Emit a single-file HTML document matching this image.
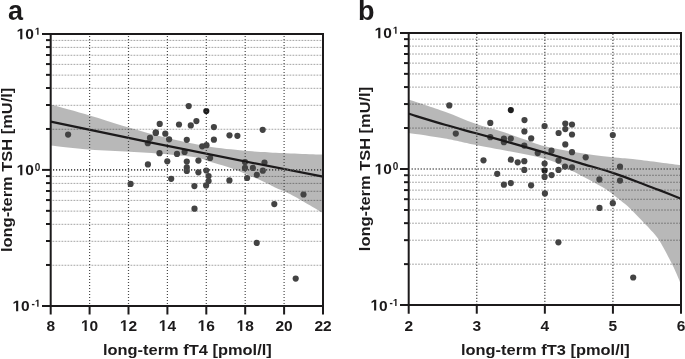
<!DOCTYPE html>
<html><head><meta charset="utf-8"><style>
html,body{margin:0;padding:0;background:#fff;width:685px;height:359px;overflow:hidden}
svg{display:block;will-change:transform}
</style></head><body>
<svg width="685" height="359" viewBox="0 0 685 359" font-family='"Liberation Sans", sans-serif' fill="#1c1a1b">
<rect width="685" height="359" fill="#fff"/>
<g>
<line x1="51.70" y1="265.26" x2="322.00" y2="265.26" stroke="#a4a4a4" stroke-width="1" stroke-dasharray="1.8 1.2" stroke-dashoffset="2.2"/>
<line x1="51.70" y1="241.31" x2="322.00" y2="241.31" stroke="#a4a4a4" stroke-width="1" stroke-dasharray="1.8 1.2" stroke-dashoffset="2.2"/>
<line x1="51.70" y1="224.32" x2="322.00" y2="224.32" stroke="#a4a4a4" stroke-width="1" stroke-dasharray="1.8 1.2" stroke-dashoffset="2.2"/>
<line x1="51.70" y1="211.14" x2="322.00" y2="211.14" stroke="#a4a4a4" stroke-width="1" stroke-dasharray="1.8 1.2" stroke-dashoffset="2.2"/>
<line x1="51.70" y1="200.37" x2="322.00" y2="200.37" stroke="#a4a4a4" stroke-width="1" stroke-dasharray="1.8 1.2" stroke-dashoffset="2.2"/>
<line x1="51.70" y1="191.27" x2="322.00" y2="191.27" stroke="#a4a4a4" stroke-width="1" stroke-dasharray="1.8 1.2" stroke-dashoffset="2.2"/>
<line x1="51.70" y1="183.38" x2="322.00" y2="183.38" stroke="#a4a4a4" stroke-width="1" stroke-dasharray="1.8 1.2" stroke-dashoffset="2.2"/>
<line x1="51.70" y1="176.42" x2="322.00" y2="176.42" stroke="#a4a4a4" stroke-width="1" stroke-dasharray="1.8 1.2" stroke-dashoffset="2.2"/>
<line x1="51.70" y1="129.26" x2="322.00" y2="129.26" stroke="#a4a4a4" stroke-width="1" stroke-dasharray="1.8 1.2" stroke-dashoffset="2.2"/>
<line x1="51.70" y1="105.31" x2="322.00" y2="105.31" stroke="#a4a4a4" stroke-width="1" stroke-dasharray="1.8 1.2" stroke-dashoffset="2.2"/>
<line x1="51.70" y1="88.32" x2="322.00" y2="88.32" stroke="#a4a4a4" stroke-width="1" stroke-dasharray="1.8 1.2" stroke-dashoffset="2.2"/>
<line x1="51.70" y1="75.14" x2="322.00" y2="75.14" stroke="#a4a4a4" stroke-width="1" stroke-dasharray="1.8 1.2" stroke-dashoffset="2.2"/>
<line x1="51.70" y1="64.37" x2="322.00" y2="64.37" stroke="#a4a4a4" stroke-width="1" stroke-dasharray="1.8 1.2" stroke-dashoffset="2.2"/>
<line x1="51.70" y1="55.27" x2="322.00" y2="55.27" stroke="#a4a4a4" stroke-width="1" stroke-dasharray="1.8 1.2" stroke-dashoffset="2.2"/>
<line x1="51.70" y1="47.38" x2="322.00" y2="47.38" stroke="#a4a4a4" stroke-width="1" stroke-dasharray="1.8 1.2" stroke-dashoffset="2.2"/>
<line x1="51.70" y1="40.42" x2="322.00" y2="40.42" stroke="#a4a4a4" stroke-width="1" stroke-dasharray="1.8 1.2" stroke-dashoffset="2.2"/>
<path d="M50.70,104.40 C56.42,106.00 69.28,109.37 85.00,114.00 C100.72,118.63 125.83,127.03 145.00,132.20 C164.17,137.37 184.17,141.98 200.00,145.00 C215.83,148.02 228.33,149.07 240.00,150.30 C251.67,151.53 256.17,151.68 270.00,152.40 C283.83,153.12 314.17,154.23 323.00,154.60 L323.00,213.00 C317.50,209.83 298.00,198.27 290.00,194.00 C282.00,189.73 280.00,189.72 275.00,187.40 C270.00,185.08 267.50,183.37 260.00,180.10 C252.50,176.83 238.50,170.92 230.00,167.80 C221.50,164.68 214.83,163.15 209.00,161.40 C203.17,159.65 203.17,158.57 195.00,157.30 C186.83,156.03 171.67,154.75 160.00,153.80 C148.33,152.85 137.50,152.37 125.00,151.60 C112.50,150.83 97.38,150.20 85.00,149.20 C72.62,148.20 56.42,146.20 50.70,145.60 Z" fill="#000" fill-opacity="0.28" stroke="none"/>
<circle cx="68.10" cy="134.60" r="3.1" fill="#434343"/>
<circle cx="188.70" cy="106.10" r="3.1" fill="#434343"/>
<circle cx="159.70" cy="123.90" r="3.1" fill="#434343"/>
<circle cx="179.00" cy="124.50" r="3.1" fill="#434343"/>
<circle cx="190.80" cy="125.40" r="3.1" fill="#434343"/>
<circle cx="196.40" cy="121.10" r="3.1" fill="#434343"/>
<circle cx="155.80" cy="132.40" r="3.1" fill="#434343"/>
<circle cx="165.30" cy="133.70" r="3.1" fill="#434343"/>
<circle cx="150.00" cy="137.90" r="3.1" fill="#434343"/>
<circle cx="169.10" cy="139.30" r="3.1" fill="#434343"/>
<circle cx="186.80" cy="139.80" r="3.1" fill="#434343"/>
<circle cx="147.80" cy="143.20" r="3.1" fill="#434343"/>
<circle cx="202.20" cy="146.30" r="3.1" fill="#434343"/>
<circle cx="206.50" cy="145.20" r="3.1" fill="#434343"/>
<circle cx="159.50" cy="153.20" r="3.1" fill="#434343"/>
<circle cx="177.00" cy="153.90" r="3.1" fill="#434343"/>
<circle cx="184.60" cy="151.90" r="3.1" fill="#434343"/>
<circle cx="210.10" cy="158.00" r="3.1" fill="#434343"/>
<circle cx="147.90" cy="164.40" r="3.1" fill="#434343"/>
<circle cx="167.30" cy="161.30" r="3.1" fill="#434343"/>
<circle cx="186.80" cy="161.60" r="3.1" fill="#434343"/>
<circle cx="198.40" cy="160.60" r="3.1" fill="#434343"/>
<circle cx="186.80" cy="167.40" r="3.1" fill="#434343"/>
<circle cx="186.80" cy="170.90" r="3.1" fill="#434343"/>
<circle cx="198.40" cy="172.30" r="3.1" fill="#434343"/>
<circle cx="206.30" cy="170.50" r="3.1" fill="#434343"/>
<circle cx="171.20" cy="178.80" r="3.1" fill="#434343"/>
<circle cx="208.60" cy="176.00" r="3.1" fill="#434343"/>
<circle cx="130.60" cy="183.90" r="3.1" fill="#434343"/>
<circle cx="194.40" cy="186.10" r="3.1" fill="#434343"/>
<circle cx="206.10" cy="185.40" r="3.1" fill="#434343"/>
<circle cx="206.30" cy="111.00" r="3.1" fill="#1e1e1e"/>
<circle cx="213.90" cy="127.10" r="3.1" fill="#434343"/>
<circle cx="213.90" cy="139.70" r="3.1" fill="#434343"/>
<circle cx="229.50" cy="135.30" r="3.1" fill="#434343"/>
<circle cx="237.40" cy="135.80" r="3.1" fill="#434343"/>
<circle cx="262.70" cy="129.80" r="3.1" fill="#434343"/>
<circle cx="208.60" cy="181.10" r="3.1" fill="#434343"/>
<circle cx="229.40" cy="180.40" r="3.1" fill="#434343"/>
<circle cx="245.00" cy="162.00" r="3.1" fill="#434343"/>
<circle cx="245.00" cy="167.90" r="3.1" fill="#434343"/>
<circle cx="252.90" cy="167.90" r="3.1" fill="#434343"/>
<circle cx="264.50" cy="162.60" r="3.1" fill="#434343"/>
<circle cx="262.80" cy="170.70" r="3.1" fill="#434343"/>
<circle cx="256.80" cy="174.80" r="3.1" fill="#434343"/>
<circle cx="247.10" cy="178.00" r="3.1" fill="#434343"/>
<circle cx="303.50" cy="194.50" r="3.1" fill="#434343"/>
<circle cx="194.50" cy="208.70" r="3.1" fill="#434343"/>
<circle cx="274.30" cy="204.10" r="3.1" fill="#434343"/>
<circle cx="256.70" cy="242.90" r="3.1" fill="#434343"/>
<circle cx="295.70" cy="278.60" r="3.1" fill="#434343"/>
<circle cx="155.80" cy="132.90" r="3.1" fill="#434343"/>
<path d="M50.7,121.6 Q186.85,150.6 323,176.6" fill="none" stroke="#1c1a1b" stroke-width="2.2"/>
<line x1="53.00" y1="169.90" x2="322.00" y2="169.90" stroke="#505050" stroke-width="1.7" stroke-dasharray="1.2 1.8"/>
<line x1="89.60" y1="35.90" x2="89.60" y2="304.90" stroke="#4a4a4a" stroke-width="1.2" stroke-dasharray="1.2 1.8"/>
<line x1="128.50" y1="35.90" x2="128.50" y2="304.90" stroke="#4a4a4a" stroke-width="1.2" stroke-dasharray="1.2 1.8"/>
<line x1="167.40" y1="35.90" x2="167.40" y2="304.90" stroke="#4a4a4a" stroke-width="1.2" stroke-dasharray="1.2 1.8"/>
<line x1="206.30" y1="35.90" x2="206.30" y2="304.90" stroke="#4a4a4a" stroke-width="1.2" stroke-dasharray="1.2 1.8"/>
<line x1="245.20" y1="35.90" x2="245.20" y2="304.90" stroke="#4a4a4a" stroke-width="1.2" stroke-dasharray="1.2 1.8"/>
<line x1="284.10" y1="35.90" x2="284.10" y2="304.90" stroke="#4a4a4a" stroke-width="1.2" stroke-dasharray="1.2 1.8"/>
<path d="M42.00,33.90 H323.00 V314.50" fill="none" stroke="#1c1a1b" stroke-width="2.0"/>
<path d="M42.00,305.90 H323.00" fill="none" stroke="#1c1a1b" stroke-width="2.0"/>
<path d="M50.70,32.90 V314.50" fill="none" stroke="#1c1a1b" stroke-width="2.0"/>
<line x1="89.60" y1="305.90" x2="89.60" y2="314.50" stroke="#1c1a1b" stroke-width="2.0"/>
<line x1="128.50" y1="305.90" x2="128.50" y2="314.50" stroke="#1c1a1b" stroke-width="2.0"/>
<line x1="167.40" y1="305.90" x2="167.40" y2="314.50" stroke="#1c1a1b" stroke-width="2.0"/>
<line x1="206.30" y1="305.90" x2="206.30" y2="314.50" stroke="#1c1a1b" stroke-width="2.0"/>
<line x1="245.20" y1="305.90" x2="245.20" y2="314.50" stroke="#1c1a1b" stroke-width="2.0"/>
<line x1="284.10" y1="305.90" x2="284.10" y2="314.50" stroke="#1c1a1b" stroke-width="2.0"/>
<line x1="42.00" y1="169.90" x2="50.70" y2="169.90" stroke="#1c1a1b" stroke-width="2.0"/>
<line x1="46.00" y1="264.96" x2="50.70" y2="264.96" stroke="#1c1a1b" stroke-width="2.0"/>
<line x1="46.00" y1="241.01" x2="50.70" y2="241.01" stroke="#1c1a1b" stroke-width="2.0"/>
<line x1="46.00" y1="224.02" x2="50.70" y2="224.02" stroke="#1c1a1b" stroke-width="2.0"/>
<line x1="46.00" y1="210.84" x2="50.70" y2="210.84" stroke="#1c1a1b" stroke-width="2.0"/>
<line x1="46.00" y1="200.07" x2="50.70" y2="200.07" stroke="#1c1a1b" stroke-width="2.0"/>
<line x1="46.00" y1="190.97" x2="50.70" y2="190.97" stroke="#1c1a1b" stroke-width="2.0"/>
<line x1="46.00" y1="183.08" x2="50.70" y2="183.08" stroke="#1c1a1b" stroke-width="2.0"/>
<line x1="46.00" y1="176.12" x2="50.70" y2="176.12" stroke="#1c1a1b" stroke-width="2.0"/>
<line x1="46.00" y1="128.96" x2="50.70" y2="128.96" stroke="#1c1a1b" stroke-width="2.0"/>
<line x1="46.00" y1="105.01" x2="50.70" y2="105.01" stroke="#1c1a1b" stroke-width="2.0"/>
<line x1="46.00" y1="88.02" x2="50.70" y2="88.02" stroke="#1c1a1b" stroke-width="2.0"/>
<line x1="46.00" y1="74.84" x2="50.70" y2="74.84" stroke="#1c1a1b" stroke-width="2.0"/>
<line x1="46.00" y1="64.07" x2="50.70" y2="64.07" stroke="#1c1a1b" stroke-width="2.0"/>
<line x1="46.00" y1="54.97" x2="50.70" y2="54.97" stroke="#1c1a1b" stroke-width="2.0"/>
<line x1="46.00" y1="47.08" x2="50.70" y2="47.08" stroke="#1c1a1b" stroke-width="2.0"/>
<line x1="46.00" y1="40.12" x2="50.70" y2="40.12" stroke="#1c1a1b" stroke-width="2.0"/>
<text x="46.39" y="330.90" font-size="15.5" font-weight="bold">8</text>
<path d="M478,0 L478,1170 L140,959 L140,1180 L493,1409 L759,1409 L759,0 Z" transform="translate(80.98 330.90) scale(0.00757 -0.00757)"/>
<text x="89.60" y="330.90" font-size="15.5" font-weight="bold">0</text>
<path d="M478,0 L478,1170 L140,959 L140,1180 L493,1409 L759,1409 L759,0 Z" transform="translate(119.88 330.90) scale(0.00757 -0.00757)"/>
<text x="128.50" y="330.90" font-size="15.5" font-weight="bold">2</text>
<path d="M478,0 L478,1170 L140,959 L140,1180 L493,1409 L759,1409 L759,0 Z" transform="translate(158.78 330.90) scale(0.00757 -0.00757)"/>
<text x="167.40" y="330.90" font-size="15.5" font-weight="bold">4</text>
<path d="M478,0 L478,1170 L140,959 L140,1180 L493,1409 L759,1409 L759,0 Z" transform="translate(197.68 330.90) scale(0.00757 -0.00757)"/>
<text x="206.30" y="330.90" font-size="15.5" font-weight="bold">6</text>
<path d="M478,0 L478,1170 L140,959 L140,1180 L493,1409 L759,1409 L759,0 Z" transform="translate(236.58 330.90) scale(0.00757 -0.00757)"/>
<text x="245.20" y="330.90" font-size="15.5" font-weight="bold">8</text>
<text x="275.48" y="330.90" font-size="15.5" font-weight="bold">2</text>
<text x="284.10" y="330.90" font-size="15.5" font-weight="bold">0</text>
<text x="314.38" y="330.90" font-size="15.5" font-weight="bold">2</text>
<text x="323.00" y="330.90" font-size="15.5" font-weight="bold">2</text>
<path d="M478,0 L478,1170 L140,959 L140,1180 L493,1409 L759,1409 L759,0 Z" transform="translate(34.84 34.70) scale(0.00488 -0.00488)"/>
<path d="M478,0 L478,1170 L140,959 L140,1180 L493,1409 L759,1409 L759,0 Z" transform="translate(16.60 39.30) scale(0.00757 -0.00757)"/>
<text x="25.22" y="39.30" font-size="15.5" font-weight="bold">0</text>
<text x="34.84" y="170.70" font-size="10" font-weight="bold">0</text>
<path d="M478,0 L478,1170 L140,959 L140,1180 L493,1409 L759,1409 L759,0 Z" transform="translate(16.60 175.30) scale(0.00757 -0.00757)"/>
<text x="25.22" y="175.30" font-size="15.5" font-weight="bold">0</text>
<text x="31.51" y="306.70" font-size="10" font-weight="bold">-</text>
<path d="M478,0 L478,1170 L140,959 L140,1180 L493,1409 L759,1409 L759,0 Z" transform="translate(34.84 306.70) scale(0.00488 -0.00488)"/>
<path d="M478,0 L478,1170 L140,959 L140,1180 L493,1409 L759,1409 L759,0 Z" transform="translate(12.47 311.30) scale(0.00757 -0.00757)"/>
<text x="21.09" y="311.30" font-size="15.5" font-weight="bold">0</text>
<text x="187.35" y="355" text-anchor="middle" font-size="15.5" font-weight="bold" transform="translate(187.35 0) scale(1.06 1) translate(-187.35 0)">long-term fT4 [pmol/l]</text>
<text x="0" y="0" text-anchor="middle" font-size="15.5" font-weight="bold" transform="translate(12.40 169.90) rotate(-90) scale(1.06 1)">long-term TSH [mU/l]</text>
</g>
<g>
<line x1="409.70" y1="264.18" x2="680.00" y2="264.18" stroke="#a4a4a4" stroke-width="1" stroke-dasharray="1.8 1.2" stroke-dashoffset="3.6"/>
<line x1="409.70" y1="240.21" x2="680.00" y2="240.21" stroke="#a4a4a4" stroke-width="1" stroke-dasharray="1.8 1.2" stroke-dashoffset="3.6"/>
<line x1="409.70" y1="223.21" x2="680.00" y2="223.21" stroke="#a4a4a4" stroke-width="1" stroke-dasharray="1.8 1.2" stroke-dashoffset="3.6"/>
<line x1="409.70" y1="210.02" x2="680.00" y2="210.02" stroke="#a4a4a4" stroke-width="1" stroke-dasharray="1.8 1.2" stroke-dashoffset="3.6"/>
<line x1="409.70" y1="199.24" x2="680.00" y2="199.24" stroke="#a4a4a4" stroke-width="1" stroke-dasharray="1.8 1.2" stroke-dashoffset="3.6"/>
<line x1="409.70" y1="190.13" x2="680.00" y2="190.13" stroke="#a4a4a4" stroke-width="1" stroke-dasharray="1.8 1.2" stroke-dashoffset="3.6"/>
<line x1="409.70" y1="182.24" x2="680.00" y2="182.24" stroke="#a4a4a4" stroke-width="1" stroke-dasharray="1.8 1.2" stroke-dashoffset="3.6"/>
<line x1="409.70" y1="175.28" x2="680.00" y2="175.28" stroke="#a4a4a4" stroke-width="1" stroke-dasharray="1.8 1.2" stroke-dashoffset="3.6"/>
<line x1="409.70" y1="128.08" x2="680.00" y2="128.08" stroke="#a4a4a4" stroke-width="1" stroke-dasharray="1.8 1.2" stroke-dashoffset="3.6"/>
<line x1="409.70" y1="104.11" x2="680.00" y2="104.11" stroke="#a4a4a4" stroke-width="1" stroke-dasharray="1.8 1.2" stroke-dashoffset="3.6"/>
<line x1="409.70" y1="87.11" x2="680.00" y2="87.11" stroke="#a4a4a4" stroke-width="1" stroke-dasharray="1.8 1.2" stroke-dashoffset="3.6"/>
<line x1="409.70" y1="73.92" x2="680.00" y2="73.92" stroke="#a4a4a4" stroke-width="1" stroke-dasharray="1.8 1.2" stroke-dashoffset="3.6"/>
<line x1="409.70" y1="63.14" x2="680.00" y2="63.14" stroke="#a4a4a4" stroke-width="1" stroke-dasharray="1.8 1.2" stroke-dashoffset="3.6"/>
<line x1="409.70" y1="54.03" x2="680.00" y2="54.03" stroke="#a4a4a4" stroke-width="1" stroke-dasharray="1.8 1.2" stroke-dashoffset="3.6"/>
<line x1="409.70" y1="46.14" x2="680.00" y2="46.14" stroke="#a4a4a4" stroke-width="1" stroke-dasharray="1.8 1.2" stroke-dashoffset="3.6"/>
<line x1="409.70" y1="39.18" x2="680.00" y2="39.18" stroke="#a4a4a4" stroke-width="1" stroke-dasharray="1.8 1.2" stroke-dashoffset="3.6"/>
<path d="M408.70,99.50 C414.75,101.55 433.95,107.78 445.00,111.80 C456.05,115.82 465.83,120.40 475.00,123.60 C484.17,126.80 491.67,128.35 500.00,131.00 C508.33,133.65 517.50,136.95 525.00,139.50 C532.50,142.05 535.00,143.92 545.00,146.30 C555.00,148.68 573.33,151.93 585.00,153.80 C596.67,155.67 606.42,156.57 615.00,157.50 C623.58,158.43 625.50,158.13 636.50,159.40 C647.50,160.67 673.58,164.15 681.00,165.10 L681.00,284.50 C679.58,281.25 676.17,272.40 672.50,265.00 C668.83,257.60 662.75,246.07 659.00,240.10 C655.25,234.13 652.95,232.55 650.00,229.20 C647.05,225.85 644.63,223.45 641.30,220.00 C637.97,216.55 633.55,211.82 630.00,208.50 C626.45,205.18 623.83,203.18 620.00,200.10 C616.17,197.02 612.00,193.32 607.00,190.00 C602.00,186.68 596.17,183.53 590.00,180.20 C583.83,176.87 577.50,173.55 570.00,170.00 C562.50,166.45 560.83,163.10 545.00,158.90 C529.17,154.70 491.67,148.20 475.00,144.80 C458.33,141.40 456.05,140.47 445.00,138.50 C433.95,136.53 414.75,133.92 408.70,133.00 Z" fill="#000" fill-opacity="0.28" stroke="none"/>
<circle cx="449.30" cy="105.40" r="3.1" fill="#434343"/>
<circle cx="455.80" cy="133.60" r="3.1" fill="#434343"/>
<circle cx="490.30" cy="122.90" r="3.1" fill="#434343"/>
<circle cx="510.80" cy="110.10" r="3.1" fill="#1e1e1e"/>
<circle cx="524.50" cy="120.10" r="3.1" fill="#434343"/>
<circle cx="524.40" cy="131.40" r="3.1" fill="#434343"/>
<circle cx="544.60" cy="126.00" r="3.1" fill="#434343"/>
<circle cx="490.30" cy="137.20" r="3.1" fill="#434343"/>
<circle cx="503.90" cy="138.70" r="3.1" fill="#434343"/>
<circle cx="503.90" cy="142.20" r="3.1" fill="#434343"/>
<circle cx="510.80" cy="138.60" r="3.1" fill="#434343"/>
<circle cx="531.20" cy="138.40" r="3.1" fill="#434343"/>
<circle cx="524.30" cy="145.60" r="3.1" fill="#434343"/>
<circle cx="537.70" cy="153.10" r="3.1" fill="#434343"/>
<circle cx="483.50" cy="160.30" r="3.1" fill="#434343"/>
<circle cx="510.80" cy="159.70" r="3.1" fill="#434343"/>
<circle cx="517.70" cy="162.30" r="3.1" fill="#434343"/>
<circle cx="524.30" cy="161.20" r="3.1" fill="#434343"/>
<circle cx="524.30" cy="169.90" r="3.1" fill="#434343"/>
<circle cx="497.20" cy="173.80" r="3.1" fill="#434343"/>
<circle cx="503.90" cy="184.70" r="3.1" fill="#434343"/>
<circle cx="510.80" cy="183.10" r="3.1" fill="#434343"/>
<circle cx="531.10" cy="185.30" r="3.1" fill="#434343"/>
<circle cx="565.30" cy="123.60" r="3.1" fill="#434343"/>
<circle cx="572.00" cy="124.50" r="3.1" fill="#434343"/>
<circle cx="565.30" cy="129.10" r="3.1" fill="#434343"/>
<circle cx="558.60" cy="133.00" r="3.1" fill="#434343"/>
<circle cx="572.00" cy="134.50" r="3.1" fill="#434343"/>
<circle cx="565.30" cy="144.40" r="3.1" fill="#434343"/>
<circle cx="551.50" cy="150.70" r="3.1" fill="#434343"/>
<circle cx="572.00" cy="152.20" r="3.1" fill="#434343"/>
<circle cx="585.70" cy="157.30" r="3.1" fill="#434343"/>
<circle cx="558.50" cy="160.60" r="3.1" fill="#434343"/>
<circle cx="544.60" cy="163.50" r="3.1" fill="#434343"/>
<circle cx="565.00" cy="166.60" r="3.1" fill="#434343"/>
<circle cx="572.00" cy="167.30" r="3.1" fill="#434343"/>
<circle cx="544.60" cy="170.60" r="3.1" fill="#1e1e1e"/>
<circle cx="558.50" cy="169.90" r="3.1" fill="#434343"/>
<circle cx="551.60" cy="175.10" r="3.1" fill="#434343"/>
<circle cx="544.60" cy="176.90" r="3.1" fill="#434343"/>
<circle cx="599.40" cy="179.40" r="3.1" fill="#434343"/>
<circle cx="544.90" cy="193.40" r="3.1" fill="#434343"/>
<circle cx="620.00" cy="180.60" r="3.1" fill="#434343"/>
<circle cx="612.80" cy="203.20" r="3.1" fill="#434343"/>
<circle cx="599.50" cy="207.90" r="3.1" fill="#434343"/>
<circle cx="612.80" cy="135.00" r="3.1" fill="#434343"/>
<circle cx="620.00" cy="166.70" r="3.1" fill="#434343"/>
<circle cx="558.40" cy="242.30" r="3.1" fill="#434343"/>
<circle cx="633.20" cy="277.50" r="3.1" fill="#434343"/>
<path d="M408.70,113.80 C414.75,115.63 433.95,121.60 445.00,124.80 C456.05,128.00 464.17,130.03 475.00,133.00 C485.83,135.97 498.33,139.33 510.00,142.60 C521.67,145.87 533.33,149.18 545.00,152.60 C556.67,156.02 568.33,159.60 580.00,163.10 C591.67,166.60 604.17,169.98 615.00,173.60 C625.83,177.22 637.50,182.00 645.00,184.80 C652.50,187.60 654.00,188.07 660.00,190.40 C666.00,192.73 677.50,197.40 681.00,198.80" fill="none" stroke="#1c1a1b" stroke-width="2.2"/>
<line x1="411.60" y1="169.00" x2="680.00" y2="169.00" stroke="#505050" stroke-width="1.7" stroke-dasharray="1.2 1.8"/>
<line x1="476.77" y1="33.80" x2="476.77" y2="304.10" stroke="#4a4a4a" stroke-width="1.2" stroke-dasharray="1.2 1.8"/>
<line x1="544.85" y1="33.80" x2="544.85" y2="304.10" stroke="#4a4a4a" stroke-width="1.2" stroke-dasharray="1.2 1.8"/>
<line x1="612.92" y1="33.80" x2="612.92" y2="304.10" stroke="#4a4a4a" stroke-width="1.2" stroke-dasharray="1.2 1.8"/>
<path d="M400.00,32.90 H681.00 V313.70" fill="none" stroke="#1c1a1b" stroke-width="2.0"/>
<path d="M400.00,305.10 H681.00" fill="none" stroke="#1c1a1b" stroke-width="2.0"/>
<path d="M408.70,31.90 V313.70" fill="none" stroke="#1c1a1b" stroke-width="2.0"/>
<line x1="476.77" y1="305.10" x2="476.77" y2="313.70" stroke="#1c1a1b" stroke-width="2.0"/>
<line x1="544.85" y1="305.10" x2="544.85" y2="313.70" stroke="#1c1a1b" stroke-width="2.0"/>
<line x1="612.92" y1="305.10" x2="612.92" y2="313.70" stroke="#1c1a1b" stroke-width="2.0"/>
<line x1="400.00" y1="169.00" x2="408.70" y2="169.00" stroke="#1c1a1b" stroke-width="2.0"/>
<line x1="404.00" y1="264.13" x2="408.70" y2="264.13" stroke="#1c1a1b" stroke-width="2.0"/>
<line x1="404.00" y1="240.16" x2="408.70" y2="240.16" stroke="#1c1a1b" stroke-width="2.0"/>
<line x1="404.00" y1="223.16" x2="408.70" y2="223.16" stroke="#1c1a1b" stroke-width="2.0"/>
<line x1="404.00" y1="209.97" x2="408.70" y2="209.97" stroke="#1c1a1b" stroke-width="2.0"/>
<line x1="404.00" y1="199.19" x2="408.70" y2="199.19" stroke="#1c1a1b" stroke-width="2.0"/>
<line x1="404.00" y1="190.08" x2="408.70" y2="190.08" stroke="#1c1a1b" stroke-width="2.0"/>
<line x1="404.00" y1="182.19" x2="408.70" y2="182.19" stroke="#1c1a1b" stroke-width="2.0"/>
<line x1="404.00" y1="175.23" x2="408.70" y2="175.23" stroke="#1c1a1b" stroke-width="2.0"/>
<line x1="404.00" y1="128.03" x2="408.70" y2="128.03" stroke="#1c1a1b" stroke-width="2.0"/>
<line x1="404.00" y1="104.06" x2="408.70" y2="104.06" stroke="#1c1a1b" stroke-width="2.0"/>
<line x1="404.00" y1="87.06" x2="408.70" y2="87.06" stroke="#1c1a1b" stroke-width="2.0"/>
<line x1="404.00" y1="73.87" x2="408.70" y2="73.87" stroke="#1c1a1b" stroke-width="2.0"/>
<line x1="404.00" y1="63.09" x2="408.70" y2="63.09" stroke="#1c1a1b" stroke-width="2.0"/>
<line x1="404.00" y1="53.98" x2="408.70" y2="53.98" stroke="#1c1a1b" stroke-width="2.0"/>
<line x1="404.00" y1="46.09" x2="408.70" y2="46.09" stroke="#1c1a1b" stroke-width="2.0"/>
<line x1="404.00" y1="39.13" x2="408.70" y2="39.13" stroke="#1c1a1b" stroke-width="2.0"/>
<text x="404.39" y="330.90" font-size="15.5" font-weight="bold">2</text>
<text x="472.46" y="330.90" font-size="15.5" font-weight="bold">3</text>
<text x="540.54" y="330.90" font-size="15.5" font-weight="bold">4</text>
<text x="608.61" y="330.90" font-size="15.5" font-weight="bold">5</text>
<text x="676.69" y="330.90" font-size="15.5" font-weight="bold">6</text>
<path d="M478,0 L478,1170 L140,959 L140,1180 L493,1409 L759,1409 L759,0 Z" transform="translate(392.84 33.70) scale(0.00488 -0.00488)"/>
<path d="M478,0 L478,1170 L140,959 L140,1180 L493,1409 L759,1409 L759,0 Z" transform="translate(374.60 38.30) scale(0.00757 -0.00757)"/>
<text x="383.22" y="38.30" font-size="15.5" font-weight="bold">0</text>
<text x="392.84" y="169.80" font-size="10" font-weight="bold">0</text>
<path d="M478,0 L478,1170 L140,959 L140,1180 L493,1409 L759,1409 L759,0 Z" transform="translate(374.60 174.40) scale(0.00757 -0.00757)"/>
<text x="383.22" y="174.40" font-size="15.5" font-weight="bold">0</text>
<text x="389.51" y="305.90" font-size="10" font-weight="bold">-</text>
<path d="M478,0 L478,1170 L140,959 L140,1180 L493,1409 L759,1409 L759,0 Z" transform="translate(392.84 305.90) scale(0.00488 -0.00488)"/>
<path d="M478,0 L478,1170 L140,959 L140,1180 L493,1409 L759,1409 L759,0 Z" transform="translate(370.47 310.50) scale(0.00757 -0.00757)"/>
<text x="379.09" y="310.50" font-size="15.5" font-weight="bold">0</text>
<text x="545.35" y="355" text-anchor="middle" font-size="15.5" font-weight="bold" transform="translate(545.35 0) scale(1.06 1) translate(-545.35 0)">long-term fT3 [pmol/l]</text>
<text x="0" y="0" text-anchor="middle" font-size="15.5" font-weight="bold" transform="translate(370.40 169.00) rotate(-90) scale(1.06 1)">long-term TSH [mU/l]</text>
</g>
<text x="8" y="19.6" font-size="27" font-weight="bold">a</text>
<text x="358" y="19.6" font-size="27" font-weight="bold">b</text>
</svg>
</body></html>
